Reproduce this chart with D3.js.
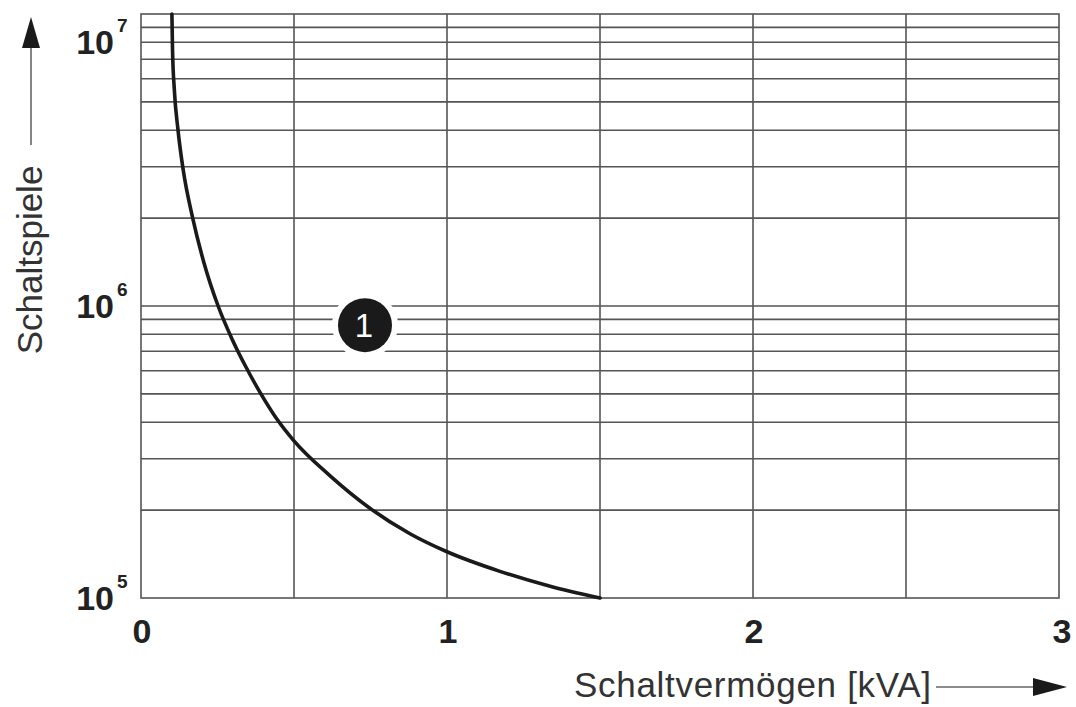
<!DOCTYPE html>
<html>
<head>
<meta charset="utf-8">
<script src="https://cdn.jsdelivr.net/npm/d3@7"></script>
<style>
  body { margin: 0; background: #fff; }
  svg { display: block; font-family: "Liberation Sans", Arial, sans-serif; }
</style>
</head>
<body>
<div id="chart"></div>
<script>
// curve 1
const kva    = [0.101, 0.103, 0.109, 0.121, 0.138, 0.169, 0.205, 0.252, 0.297, 0.343, 0.389, 0.444, 0.497, 0.618, 0.748, 0.879, 1.0, 1.173, 1.337, 1.5]
const cycles = [1e7, 7.53e6, 5.49e6, 4.0e6, 2.92e6, 2e6, 1.415e6, 1e6, 7.73e5, 6.18e5, 5.06e5, 4.1e5, 3.48e5, 2.62e5, 2.03e5, 1.66e5, 1.44e5, 1.234e5, 1.097e5, 1e5]

const xTicks = [0, 1, 2, 3]
const xGrid = [0.5, 1, 1.5, 2, 2.5]
const yDecades = [1e5, 1e6, 1e7]
const yExponents = ["5", "6", "7"]
const marker = { kva: 0.732, cycles: 8.6e5, label: "1" }

const width = 1076, height = 707
const margin = { top: 14, right: 17, bottom: 109, left: 141 }

const x = d3.scaleLinear().domain([0, 3]).range([margin.left, width - margin.right])
const y = d3.scaleLog().domain([1e5, 1e7]).range([height - margin.bottom, margin.top])

const svg = d3.select("#chart").append("svg")
  .attr("width", width)
  .attr("height", height)

const grid = svg.append("g")
  .attr("stroke", "#555")
  .attr("stroke-width", 1.6)

// horizontal lines 2..9 of each decade
let yGrid = []
yDecades.slice(0, -1).forEach(d => {
  for (let k = 2; k <= 9; k++) yGrid.push(d * k)
})
yGrid.push(1e6)

grid.selectAll(".hg")
  .data(yGrid)
  .enter().append("line")
  .attr("x1", x(0)).attr("x2", x(3))
  .attr("y1", d => y(d)).attr("y2", d => y(d))

grid.selectAll(".vg")
  .data(xGrid)
  .enter().append("line")
  .attr("x1", d => x(d)).attr("x2", d => x(d))
  .attr("y1", y(1e5)).attr("y2", y(1e7))

grid.append("rect")
  .attr("x", x(0)).attr("y", y(1e7))
  .attr("width", x(3) - x(0)).attr("height", y(1e5) - y(1e7))
  .attr("fill", "none")

// the curve
const line = d3.line()
  .x((d, i) => x(kva[i]))
  .y(d => y(d))
  .curve(d3.curveMonotoneX)

svg.append("path")
  .datum(cycles)
  .attr("d", line)
  .attr("fill", "none")
  .attr("stroke", "#1a1a1a")
  .attr("stroke-width", 3.6)
  .attr("stroke-linecap", "round")

// marker 1 with white halo
const mx = x(marker.kva), my = y(marker.cycles)
svg.append("circle").attr("cx", mx).attr("cy", my).attr("r", 33).attr("fill", "#fff")
svg.append("circle").attr("cx", mx).attr("cy", my).attr("r", 27).attr("fill", "#1a1a1a")
svg.append("text")
  .attr("x", mx - 1).attr("y", my + 12)
  .attr("text-anchor", "middle")
  .attr("font-size", 33)
  .attr("fill", "#fff")
  .text(marker.label)

// y tick labels 10^n
const yl = svg.append("g").attr("fill", "#222").attr("font-weight", "bold")
yDecades.forEach((d, i) => {
  let cy = Math.max(y(d), 42)
  yl.append("text")
    .attr("x", 114).attr("y", cy + 12)
    .attr("text-anchor", "end")
    .attr("font-size", 34)
    .text("10")
  yl.append("text")
    .attr("x", 117).attr("y", cy - 10)
    .attr("font-size", 19)
    .text(yExponents[i])
})

// x tick labels
svg.append("g").attr("fill", "#222").attr("font-weight", "bold")
  .selectAll("text")
  .data(xTicks)
  .enter().append("text")
  .attr("x", d => x(d) + (d === 3 ? 3 : 1))
  .attr("y", 643)
  .attr("text-anchor", "middle")
  .attr("font-size", 34)
  .text(d => d)

// axis titles with arrows
svg.append("text")
  .attr("x", 574).attr("y", 697)
  .attr("font-size", 35)
  .attr("letter-spacing", 0.7)
  .attr("fill", "#333")
  .text("Schaltvermögen [kVA]")

svg.append("line")
  .attr("x1", 936).attr("x2", 1035).attr("y1", 687).attr("y2", 687)
  .attr("stroke", "#666").attr("stroke-width", 1.6)
svg.append("path")
  .attr("d", "M1033,678 L1067,687 L1033,696 Z")
  .attr("fill", "#1a1a1a")

svg.append("text")
  .attr("transform", "translate(42,260) rotate(-90)")
  .attr("text-anchor", "middle")
  .attr("font-size", 35)
  .attr("fill", "#333")
  .text("Schaltspiele")

svg.append("line")
  .attr("x1", 31).attr("x2", 31).attr("y1", 145).attr("y2", 46)
  .attr("stroke", "#666").attr("stroke-width", 1.6)
svg.append("path")
  .attr("d", "M22,48 L31,17 L40,48 Z")
  .attr("fill", "#1a1a1a")
</script>
</body>
</html>
